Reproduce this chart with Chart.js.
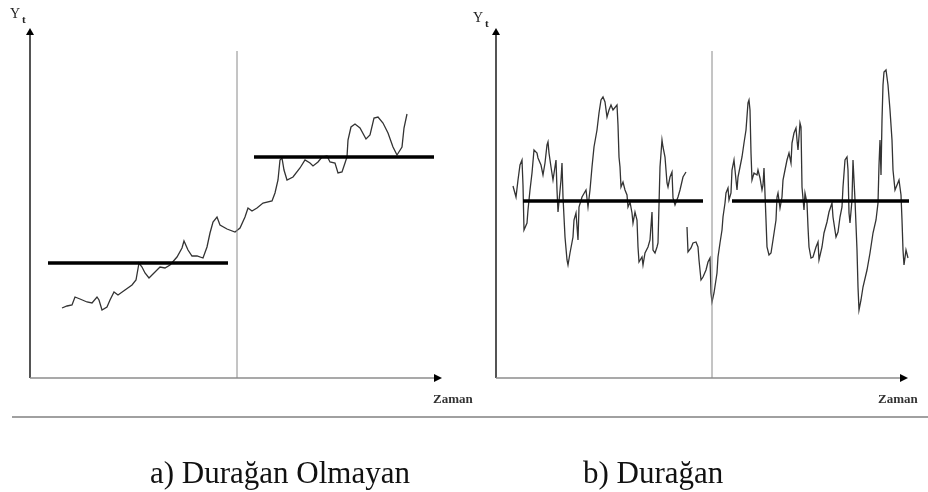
<!DOCTYPE html>
<html><head><meta charset="utf-8">
<script src="https://cdn.jsdelivr.net/npm/chart.js@4.4.1/dist/chart.umd.min.js"></script>
<style>
html,body{margin:0;padding:0;background:#fff;width:928px;height:492px;overflow:hidden;}
canvas{position:absolute;top:0;}
#ca{left:0}
#cb{left:464px}
#sep{position:absolute;left:12px;top:416px;width:916px;height:2px;background:#a0a0a0;}
</style></head><body>
<canvas id="ca" width="500" height="492"></canvas>
<canvas id="cb" width="464" height="492"></canvas>
<div id="sep"></div>
<script>
// ---------- Panel a) non-stationary ----------
const timeA = [16,18.5,21,22.5,25,28.5,31,33.5,34.5,36,38.5,40,42,44,47.5,51,53,54.5,56,57.5,59.5,61.5,65,67.5,70,73.5,76,77,79,81,83.5,86.5,88.5,90,91.5,93.5,95,98.5,102.5,105,107.5,109,111,113.5,116.5,121,122.5,124,125,126,127,128.5,131.5,135,137.5,140,141.5,144,146,148.5,150,152.5,154,156,157.5,158.5,159,160.5,162.5,165,168,170,172,174,176.5,179,181.5,183.5,186,187,188.5];
const valueA = [35,36,36.5,40.5,39.5,38,37.5,40.5,39,34,35.5,39,43,41.5,44,46.5,49,57.5,55.5,52.5,50,52,55.5,55,56.5,60.5,65,68.5,64,61,61,60,65.5,72.5,78,80.5,76.5,74.5,73,75,80.5,85,83.5,85,87.5,88.5,92.5,99,109,110,104,99,100.5,105,109,107.5,106,108,110.5,111,108,107.5,102.5,103,107.5,110.5,119,125.5,127,125,119.5,121.5,130,130.5,127.5,122.5,115.5,111.5,115.5,125,132];
const meanStartA = [9, 112];
const meanEndA = [99, 202];
const meanLevelA = [57.5, 110.5];
const splitA = 103.5, splitTopA = 163.5;
const rangeA = {xMax: 206, yMin: 0, yMax: 174};

// ---------- Panel b) stationary ----------
const timeB = [8.5,10,11,12,13,13.5,14,15.5,16,17,18,19,20.5,21,22.5,23.5,24.5,25.5,26,26.5,27.5,28.5,30,30.5,31,32.5,33,33.5,34.5,35.5,36,37,38.5,39,40,41,41.5,43,45,46,47,48,49,50.5,51.5,52.5,53.5,54.5,55.5,56.5,57.5,58.5,60.5,61,61.5,62,62.5,63.5,64.5,65.5,66,67,68,68.5,69.5,70.5,71,71.5,73,73.5,74.5,76,77,78,78.5,79.5,80.5,81,82,83,83.5,84.5,85.5,86,87,88,88.5,89.5,91,92,93.5,95,95.25,95.5,96,97.5,98.5,100,101,101.5,102.5,103.5,105,106,107,107.5,108,109,110.5,111,112,113,113.5,114.5,115,116,116.5,117.5,118,119,119.5,120.5,121,122,123,124,125,126,126.5,127,127.5,128,129,130.5,131,132,133,133.5,134,135,135.5,136.5,137.5,138.5,140,140.5,141,142,143,143.5,144.5,145.5,146.5,147.5,148,149,150,150.5,151,152,152.5,153,154,154.5,155.5,156,156.5,157.5,158.5,160,161,161.5,163,164,165.5,166.5,168,168.5,170,171,172,173,173.5,174.5,175.5,176,176.5,177,178,178.5,179.5,180.5,181,181.5,182.5,183.5,185.5,187,188.5,190,191,191.5,192,192.5,193,193.5,194,195,196,197,198,198.5,199.5,200.5,201.5,202.5,203,203.5,204,205,206,207,208];
const valueB = [7.5,2,10.5,18,20.5,8,-14.5,-11,-4.5,5.5,14,25.5,24,21.5,18,13,19,28,29.5,24,17,10.5,20.5,5.5,-5.5,10.5,19,2,-18,-29.5,-32,-26,-18,-9.5,-6,-19.5,-3,2,5.5,-3,5.5,17,27,35.5,44,50.5,52,49.5,42,45.5,48,45.5,48,38,22,17,7,9.5,5.5,3,-3,-0.5,-6,-11,-5.5,-9.5,-23,-30.5,-28,-32,-26,-23,-19.5,-5.5,-24.5,-26,-23,-21,17,30.5,27,22,9,7,12,14.5,1.5,-2,2,5.5,12,14.5,null,-13,-25.5,-23.5,-21,-20.5,-23,-29.5,-39.5,-38,-34.5,-30.5,-28.5,-46,-50.5,-46,-36,-28,-21,-14.5,-8,-1,4,6.5,0.5,4,15.5,20.5,15.5,5.5,12,17,22,29,35.5,49,50.5,45.5,24,10.5,14,13,15.5,11.5,5.5,8,16.5,-9.5,-23,-27,-26,-19.5,-9.5,2,4,-3.5,2,10.5,15.5,20.5,24,19,29,34,36.5,30.5,25.5,39,37,7,-4.5,4,-1,-13,-23,-28.5,-28,-23,-20.5,-29.5,-23,-16,-10.5,-5.5,-1,-8,-18,-15.5,-8,-3,7,20.5,22,15.5,-6,-11,0.5,20.5,0.5,-24.5,-43,-54.5,-49.5,-43,-34.5,-26,-16,-9.5,-1,18,30.5,13,40.5,58,64.5,65.5,58,45.5,30.5,15.5,5.5,8,10.5,3,-9.5,-24.5,-32,-24.5,-28.5,-22,-19.5];
const meanStartB = [13.5, 118];
const meanEndB = [103.5, 206.5];
const meanLevelB = [0, 0];
const splitB = 108, splitTopB = 75;
const rangeB = {xMax: 206, yMin: -88.5, yMax: 85.5};

const axisLabelY = 'Y', axisLabelSub = 't', axisLabelX = 'Zaman';
const captionA = 'a) Durağan Olmayan';
const captionB = 'b) Durağan';

const decor = {
  id: 'decor',
  beforeDatasetsDraw(chart) {
    const {ctx, chartArea: a} = chart;
    ctx.save();
    ctx.strokeStyle = '#2a2a2a'; ctx.lineWidth = 1.6;
    ctx.beginPath(); ctx.moveTo(a.left, a.bottom); ctx.lineTo(a.left, a.top + 4); ctx.stroke();
    ctx.strokeStyle = '#8c8c8c'; ctx.lineWidth = 1.4;
    ctx.beginPath(); ctx.moveTo(a.left, a.bottom); ctx.lineTo(a.right - 5, a.bottom); ctx.stroke();
    ctx.fillStyle = '#000';
    ctx.beginPath(); ctx.moveTo(a.left, a.top - 2); ctx.lineTo(a.left - 4, a.top + 5); ctx.lineTo(a.left + 4, a.top + 5); ctx.closePath(); ctx.fill();
    ctx.beginPath(); ctx.moveTo(a.right, a.bottom); ctx.lineTo(a.right - 8, a.bottom - 4); ctx.lineTo(a.right - 8, a.bottom + 4); ctx.closePath(); ctx.fill();
    ctx.restore();
  },
  afterDraw(chart, args, o) {
    const {ctx, chartArea: a} = chart;
    ctx.save();
    ctx.fillStyle = '#222';
    ctx.textBaseline = 'alphabetic';
    ctx.font = '14px "Liberation Serif"';
    ctx.fillText(axisLabelY, a.left + o.yx, a.top + o.yy);
    ctx.font = 'bold 11px "Liberation Serif"';
    ctx.fillText(axisLabelSub, a.left + o.tx, a.top + o.ty);
    ctx.font = 'bold 13px "Liberation Serif"';
    ctx.fillStyle = '#333';
    ctx.fillText(axisLabelX, a.right + o.zx, a.bottom + 25);
    ctx.fillStyle = '#111';
    ctx.font = '31px "Liberation Serif"';
    ctx.fillText(o.caption, o.cx, 483);
    ctx.restore();
  }
};

function pts(xs, ys) { return xs.map((x, i) => ({x: x, y: ys[i]})); }

function build(id, t, v, ms, me, ml, split, splitTop, range, pad, lab) {
  const ds = [{
    data: pts(t, v), borderColor: '#333', borderWidth: 1.3, pointRadius: 0,
    tension: 0, clip: false, spanGaps: false, order: 3
  }];
  ms.forEach((s, i) => ds.push({
    data: [{x: s, y: ml[i]}, {x: me[i], y: ml[i]}],
    borderColor: '#000', borderWidth: 3.5, pointRadius: 0, clip: false, order: 0, borderCapStyle: 'butt'
  }));
  ds.push({
    data: [{x: split, y: range.yMin}, {x: split, y: splitTop}],
    borderColor: '#8a8a8a', borderWidth: 1, pointRadius: 0, clip: false, order: 1
  });
  return new Chart(document.getElementById(id), {
    type: 'line',
    data: {datasets: ds},
    options: {
      responsive: false, animation: false, events: [],
      layout: {padding: pad},
      plugins: {legend: {display: false}, tooltip: {enabled: false}, decor: lab},
      scales: {
        x: {type: 'linear', min: 0, max: range.xMax, display: false},
        y: {type: 'linear', min: range.yMin, max: range.yMax, display: false}
      }
    },
    plugins: [decor]
  });
}

build('ca', timeA, valueA, meanStartA, meanEndA, meanLevelA, splitA, splitTopA, rangeA,
  {left: 30, top: 30, right: 58, bottom: 114},
  {yx: -20, yy: -12, tx: -8, ty: -7, zx: -9, caption: captionA, cx: 150});
build('cb', timeB, valueB, meanStartB, meanEndB, meanLevelB, splitB, splitTopB, rangeB,
  {left: 32, top: 30, right: 20, bottom: 114},
  {yx: -23, yy: -8, tx: -11, ty: -3, zx: -30, caption: captionB, cx: 119});
</script>
</body></html>
